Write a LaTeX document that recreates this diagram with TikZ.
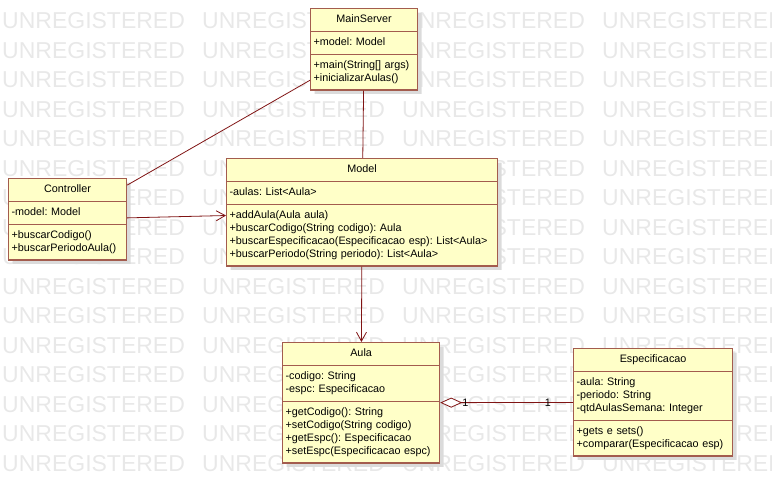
\documentclass[tikz,border=0pt]{standalone}
\usepackage{fontspec}
\setmainfont{Liberation Sans}
\usepackage{tikz}
\usetikzlibrary{shapes.multipart,shadows,arrows.meta}

\definecolor{classfill}{RGB}{255,255,200}
\definecolor{classline}{RGB}{163,92,78}
\definecolor{linkline}{RGB}{128,20,20}

\newcommand{\classname}[1]{\makebox[\linewidth]{\strut#1}}

\tikzset{
  umlclass/.style={rectangle split, rectangle split parts=3, anchor=north west,
    draw=classline, fill=classfill, line width=1.2pt,
    inner xsep=3pt, inner ysep=4.3pt, align=left,
    font=\fontsize{10.8}{13}\selectfont\frenchspacing,
    drop shadow={shadow xshift=4pt, shadow yshift=-4pt, fill=black!14, opacity=1}},
  watermark/.style={text=black!9, font=\fontsize{23}{23}\selectfont,
    inner sep=0pt, anchor=west},
  link/.style={draw=linkline, line width=0.8pt},
  mult/.style={font=\fontsize{10.8}{13}\selectfont, inner sep=1pt}
}

\begin{document}
\begin{tikzpicture}[x=1pt,y=-1pt,>={Straight Barb[length=9pt,width=10pt]}]
  \useasboundingbox (0,0) rectangle (772,502);
  % watermark
  \foreach \r in {0,...,15}
    \foreach \c in {0,...,3}
      \node[watermark] (wm\r\c) at (2+200*\c,21+29.5*\r) {UNREGISTERED};

  \node[umlclass,text width=101pt] (main) at (310,8)
    {\classname{MainServer}
     \nodepart{two}\strut +model: Model
     \nodepart{three}\strut +main(String[] args)\\\strut +inicializarAulas()};
  \node[umlclass,text width=112pt] (ctrl) at (8,178)
    {\classname{Controller}
     \nodepart{two}\strut -model: Model
     \nodepart{three}\strut +buscarCodigo()\\\strut +buscarPeriodoAula()};
  \node[umlclass,text width=265pt] (model) at (226,158)
    {\classname{Model}
     \nodepart{two}\strut -aulas: List<Aula>
     \nodepart{three}\strut +addAula(Aula aula)\\
       \strut +buscarCodigo(String codigo): Aula\\
       \strut +buscarEspecificacao(Especificacao esp): List<Aula>\\
       \strut +buscarPeriodo(String periodo): List<Aula>};
  \node[umlclass,text width=151pt] (aula) at (282,342)
    {\classname{Aula}
     \nodepart{two}\strut -codigo: String\\\strut -espc: Especificacao
     \nodepart{three}\strut +getCodigo(): String\\
       \strut +setCodigo(String codigo)\\
       \strut +getEspc(): Especificacao\\
       \strut +setEspc(Especificacao espc)};
  \node[umlclass,text width=153pt] (espec) at (573,348)
    {\classname{Especificacao}
     \nodepart{two}\strut -aula: String\\\strut -periodo: String\\
       \strut -qtdAulasSemana: Integer
     \nodepart{three}\strut +gets e sets()\\\strut +comparar(Especificacao esp)};

  \path[link]
    (main) edge (model)
    (main) edge (ctrl);
  \path[link,->]
    (ctrl) edge (model)
    (model) edge (aula);
  \path[link]
    (aula) edge[{Diamond[open,fill=white,length=22pt,width=10pt]}-]
      node[mult,pos=0.19] {1} node[mult,pos=0.81] {1} (espec);
\end{tikzpicture}
\end{document}
